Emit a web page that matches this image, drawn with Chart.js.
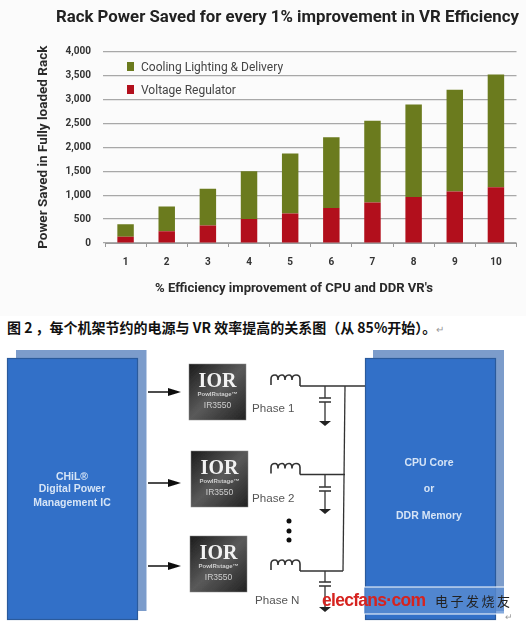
<!DOCTYPE html>
<html>
<head>
<meta charset="utf-8">
<script src="https://cdn.jsdelivr.net/npm/chart.js@4"></script>
<style>
html, body { margin: 0; padding: 0; background: #fff; }
#page { position: relative; width: 526px; height: 621px; overflow: hidden; font-family: "Liberation Sans", sans-serif; }
#chartBg { position: absolute; left: 0; top: 0; width: 526px; height: 316px; background: #fbfbfb; }
#powerChart { position: absolute; left: 0; top: 0; }
.title { position: absolute; left: 56px; top: 6px; white-space: nowrap; font: bold 16.8px Roboto, sans-serif; color: #222; }
.xtitle { position: absolute; left: 155px; top: 280px; width: 278px; text-align: center; white-space: nowrap;
  font: bold 13.1px Roboto, sans-serif; color: #2a2a2a; }
#legend { position: absolute; left: 127px; top: 57px; font: 12px Roboto, sans-serif; color: #444; }
#legend div { height: 23px; line-height: 20px; white-space: nowrap; }
#legend i { display: inline-block; width: 7px; height: 9px; margin-right: 7px; }
.caption { position: absolute; left: 7px; top: 317px; white-space: nowrap; font: bold 14px "Noto Sans CJK SC", sans-serif; color: #111; }
.caption span { color: #999; font-weight: normal; font-size: 10px; }
svg { position: absolute; left: 0; top: 0; }
</style>
</head>
<body>
<div id="page">
  <div id="chartBg"></div>
  <canvas id="powerChart" width="526" height="316"></canvas>
  <div class="title">Rack Power Saved for every 1% improvement in VR Efficiency</div>
  <div class="xtitle">% Efficiency improvement of CPU and DDR VR's</div>
  <div id="legend"></div>
  <div class="caption">图 2 ，每个机架节约的电源与 VR 效率提高的关系图（从 85%开始）。<span>↵</span></div>

  <svg width="526" height="621" font-family="Liberation Sans, sans-serif">
    <defs>
      <linearGradient id="chipFill" x1="0" y1="0" x2="1" y2="1">
        <stop offset="0" stop-color="#1c1c1c"/>
        <stop offset="0.5" stop-color="#5a5a5a"/>
        <stop offset="1" stop-color="#222"/>
      </linearGradient>
      <filter id="soft"><feGaussianBlur stdDeviation="0.35"/></filter>
      <g id="chip">
        <rect x="0" y="0" width="57" height="56" fill="url(#chipFill)" stroke="#888" stroke-width="0.5"/>
        <text x="28.5" y="23" text-anchor="middle" font-family="Liberation Serif, serif" font-weight="bold" font-size="20" fill="#f2f2f2">IOR</text>
        <text x="28.5" y="32" text-anchor="middle" font-weight="bold" font-size="6" fill="#cfcfcf">PowIRstage™</text>
        <text x="28.5" y="44" text-anchor="middle" font-size="8.5" fill="#cfcfcf">IR3550</text>
      </g>
      <path id="coil" d="M0 10 V4 Q0 0 4 0 Q7 0 7 5 Q7 0 11 0 Q14 0 14 5 Q14 0 18 0 Q21 0 21 5 Q21 0 25 0 Q29 0 29 4 V11" fill="none" stroke="#333" stroke-width="1.6"/>
      <path id="gnd" d="M-6 0 H6 L0 5 Z" fill="#222"/>
    </defs>

    <g filter="url(#soft)">
      <rect x="16" y="350" width="130.5" height="261" fill="#7c9ccb"/>
      <rect x="7.5" y="358.5" width="130" height="261" fill="#3170c8" stroke="#2a5a9c" stroke-width="1.2"/>
      <rect x="373" y="350" width="131" height="261" fill="#7c9ccb"/>
      <rect x="365.5" y="358.5" width="130" height="261" fill="#3170c8" stroke="#2a5a9c" stroke-width="1.2"/>

      <g fill="#d6e4f6" font-weight="bold" font-size="10.5" text-anchor="middle">
        <text x="72" y="480">CHiL®</text>
        <text x="72" y="492">Digital Power</text>
        <text x="72" y="506">Management IC</text>
        <text x="429" y="466">CPU Core</text>
        <text x="429" y="492">or</text>
        <text x="429" y="519">DDR Memory</text>
      </g>

      <g stroke="#111" stroke-width="1.5">
        <line x1="148" y1="392" x2="172" y2="392"/>
        <line x1="148" y1="483" x2="172" y2="483"/>
        <line x1="148" y1="566" x2="172" y2="566"/>
      </g>
      <g fill="#111">
        <path d="M168 388 L181 392 L168 396 Z"/>
        <path d="M168 479 L181 483 L168 487 Z"/>
        <path d="M168 562 L181 566 L168 570 Z"/>
      </g>

      <use href="#chip" x="189" y="364"/>
      <use href="#chip" x="191" y="451"/>
      <use href="#chip" x="190" y="536"/>

      <g fill="#555" font-size="11.6">
        <text x="252" y="412">Phase 1</text>
        <text x="252" y="502">Phase 2</text>
        <text x="255" y="604">Phase N</text>
      </g>

      <use href="#coil" x="271" y="375"/>
      <use href="#coil" x="271" y="463.5"/>
      <use href="#coil" x="271" y="560"/>

      <g stroke="#333" stroke-width="1.3" fill="none">
        <path d="M300 386 H365"/>
        <path d="M300 474.5 H345"/>
        <path d="M300 571 H343"/>
        <path d="M345 386 L343 571"/>
        <path d="M325 386 V398 M319 398 H331 M319 402 H331 M325 402 V421"/>
        <path d="M325 474.5 V487 M319 487 H331 M319 491 H331 M325 491 V509"/>
        <path d="M325 571 V582 M319 582 H331 M319 586 H331 M325 586 V607"/>
      </g>
      <use href="#gnd" x="325" y="421"/>
      <use href="#gnd" x="325" y="509"/>
      <use href="#gnd" x="325" y="607"/>
      <circle cx="289" cy="521" r="2.5" fill="#111"/>
      <circle cx="289" cy="531" r="2.5" fill="#111"/>
      <circle cx="289" cy="540" r="2.5" fill="#111"/>
    </g>

    <!-- watermark -->
    <rect x="364" y="587" width="140" height="27" fill="#5c8ed2" opacity="0.75"/>
    <path d="M364 587 H504 M364 614 H504" stroke="#fff" stroke-width="1"/>
    <text x="322" y="606" font-size="17.5" font-weight="bold" fill="#d6231f" textLength="104">elecfans·com</text>
    <text x="435" y="606" font-family="Noto Sans CJK SC" font-size="13" fill="#222" textLength="75">电子发烧友</text>
    <text x="505" y="620" font-size="9" fill="#999">↵</text>
  </svg>
</div>

<script>
const categories = ["1", "2", "3", "4", "5", "6", "7", "8", "9", "10"];
const voltageRegulator = [130, 245, 365, 500, 615, 730, 845, 960, 1075, 1165];
const coolingLighting = [260, 515, 765, 1000, 1255, 1480, 1705, 1930, 2125, 2355];
const seriesNames = ["Cooling Lighting & Delivery", "Voltage Regulator"];
const seriesColors = ["#6b7b1e", "#b20f1c"];

const tickFont = { family: "Roboto, sans-serif", size: 10, weight: "bold" };

const chart = new Chart(document.getElementById("powerChart"), {
    type: "bar",
    data: {
        labels: categories,
        datasets: [
            { label: seriesNames[1], data: voltageRegulator, backgroundColor: seriesColors[1] },
            { label: seriesNames[0], data: coolingLighting, backgroundColor: seriesColors[0] }
        ]
    },
    options: {
        responsive: false,
        animation: false,
        layout: { padding: { left: 0, right: 9.5, top: 51.4, bottom: 0 } },
        datasets: { bar: { barPercentage: 0.4, categoryPercentage: 1 } },
        plugins: {
            legend: { display: false },
            tooltip: { enabled: false }
        },
        scales: {
            x: {
                stacked: true,
                afterFit: (s) => { s.height = 73; },
                border: { color: "#999" },
                grid: { drawOnChartArea: false, tickLength: 4, color: "#999" },
                ticks: { color: "#333", font: tickFont, padding: 9 }
            },
            y: {
                stacked: true,
                min: 0,
                max: 4000,
                afterFit: (s) => { s.width = 105; },
                border: { display: false },
                grid: { color: "#a8a8a8", lineWidth: 1.2, tickLength: 2 },
                ticks: {
                    stepSize: 500,
                    color: "#333",
                    font: tickFont,
                    padding: 12,
                    callback: (v) => v.toLocaleString("en-US")
                },
                title: {
                    display: true,
                    text: "Power Saved in Fully loaded Rack",
                    color: "#2a2a2a",
                    font: { family: "Roboto, sans-serif", size: 13.5, weight: "bold" },
                    padding: { top: 36, bottom: 0 }
                }
            }
        }
    }
});

// legend sits inside the plot, built from the same names and colours
const legendBox = document.getElementById("legend");
seriesNames.forEach((name, i) => {
    const row = document.createElement("div");
    const swatch = document.createElement("i");
    swatch.style.background = seriesColors[i];
    row.appendChild(swatch);
    row.appendChild(document.createTextNode(name));
    legendBox.appendChild(row);
});
</script>
</body>
</html>
